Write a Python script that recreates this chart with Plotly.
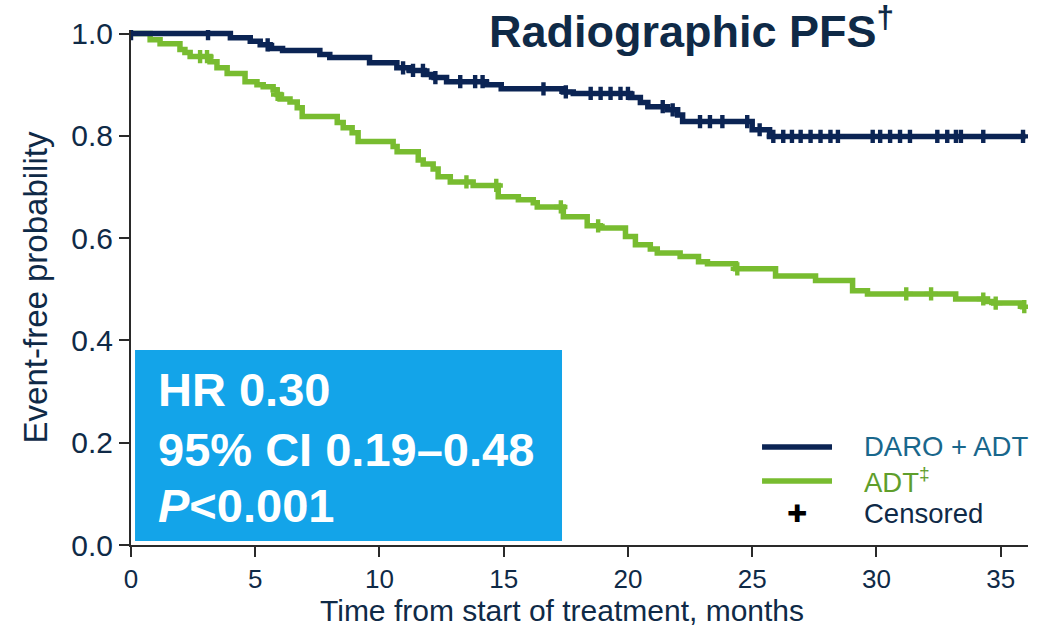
import numpy as np
import plotly.graph_objects as go

# Kaplan-Meier step data (months, event-free probability)
daro_time = [0, 4.0, 4.8, 5.2, 5.6, 6.1, 7.6, 8.0, 9.6, 10.7, 11.2, 11.8, 12.2, 12.7,
             14.3, 14.9, 17.4, 17.8, 20.1, 20.5, 20.8, 21.6, 22.0, 22.2, 25.0, 25.7, 36.0]
daro_surv = [1.0, 0.992, 0.985, 0.978, 0.971, 0.967, 0.959, 0.953, 0.943, 0.933, 0.928, 0.920,
             0.914, 0.906, 0.900, 0.892, 0.886, 0.883, 0.875, 0.865, 0.857, 0.851, 0.841, 0.828,
             0.812, 0.799, 0.799]

adt_time = [0, 0.77, 1.17, 1.97, 2.17, 2.38, 3.18, 3.46, 3.87, 4.59, 5.07, 5.32, 5.72, 5.88,
            6.0, 6.4, 6.69, 6.89, 8.3, 8.54, 8.9, 9.14, 10.55, 10.71, 11.56, 11.76, 12.16,
            12.36, 12.85, 13.77, 14.78, 15.59, 16.19, 16.35, 17.4, 18.36, 18.89, 19.9, 20.3,
            20.9, 21.18, 22.1, 22.84, 23.2, 24.33, 25.94, 27.55, 29.04, 29.64, 33.19, 34.47,
            34.72, 35.88, 36.0]
adt_surv = [1.0, 0.988, 0.980, 0.969, 0.963, 0.955, 0.945, 0.933, 0.922, 0.906, 0.900, 0.896,
            0.890, 0.881, 0.872, 0.866, 0.855, 0.838, 0.826, 0.816, 0.806, 0.789, 0.779, 0.769,
            0.753, 0.745, 0.735, 0.720, 0.710, 0.703, 0.681, 0.675, 0.669, 0.661, 0.642, 0.624,
            0.620, 0.603, 0.587, 0.579, 0.571, 0.564, 0.554, 0.550, 0.540, 0.526, 0.517, 0.497,
            0.491, 0.481, 0.476, 0.473, 0.466, 0.466]

# Censoring times (months)
daro_censor = [0.0, 3.1, 5.5, 10.95, 11.35, 11.75, 12.25, 13.25, 13.85, 14.15, 16.6, 17.5,
               18.5, 18.9, 19.3, 19.7, 20.0, 21.4, 21.8, 22.9, 23.3, 23.8, 24.8, 25.3, 25.85,
               26.25, 26.6, 26.95, 27.35, 27.75, 28.15, 28.45, 29.85, 30.15, 30.55, 30.95,
               31.35, 32.45, 32.85, 33.2, 33.4, 34.3, 35.9]
adt_censor = [2.78, 3.06, 5.9, 13.5, 14.7, 17.3, 18.8, 24.4, 31.2, 32.2, 34.3, 34.8, 35.95]

NAVY = "#0b2454"
GREEN = "#78bc30"
TEXT = "#0f2a47"
FONT = "Liberation Sans"


def surv_at(times, surv, t):
    idx = np.searchsorted(np.asarray(times), np.asarray(t), side="right") - 1
    return np.asarray(surv)[idx]


fig = go.Figure()

for times, surv, cens, color in [(adt_time, adt_surv, adt_censor, GREEN),
                                 (daro_time, daro_surv, daro_censor, NAVY)]:
    fig.add_trace(go.Scatter(x=times, y=surv, mode="lines", line=dict(color=color, width=5.5, shape="hv"),
                             showlegend=False, hoverinfo="skip"))
    fig.add_trace(go.Scatter(x=cens, y=surv_at(times, surv, cens), mode="markers",
                             marker=dict(symbol="cross", size=11, color=color, line=dict(width=0)),
                             showlegend=False, hoverinfo="skip"))

shapes = [
    # HR box
    dict(type="rect", xref="paper", yref="paper", x0=0.0045, x1=0.4805, y0=0.0078, y1=0.3786,
         fillcolor="#13a4e9", line=dict(width=0), layer="above"),
    # legend line samples
    dict(type="line", xref="paper", yref="paper", x0=0.7035, x1=0.7815, y0=0.1903, y1=0.1903,
         line=dict(color=NAVY, width=5.5)),
    dict(type="line", xref="paper", yref="paper", x0=0.7035, x1=0.7815, y0=0.1243, y1=0.1243,
         line=dict(color=GREEN, width=5.5)),
]

annotations = [
    dict(text="<b>Radiographic PFS<sup>†</sup></b>", xref="paper", yref="paper", x=0.625, y=1.004,
         xanchor="center", yanchor="middle", showarrow=False, font=dict(family=FONT, size=45, color=TEXT)),
    dict(text="<b>HR 0.30</b>", xref="paper", yref="paper", x=0.028, y=0.301, xanchor="left",
         yanchor="middle", showarrow=False, font=dict(family=FONT, size=47, color="white")),
    dict(text="<b>95% CI 0.19–0.48</b>", xref="paper", yref="paper", x=0.028, y=0.186, xanchor="left",
         yanchor="middle", showarrow=False, font=dict(family=FONT, size=47, color="white")),
    dict(text="<b><i>P</i><0.001</b>", xref="paper", yref="paper", x=0.028, y=0.076, xanchor="left",
         yanchor="middle", showarrow=False, font=dict(family=FONT, size=47, color="white")),
    dict(text="DARO + ADT", xref="paper", yref="paper", x=0.815, y=0.1903, xanchor="left",
         yanchor="middle", showarrow=False, font=dict(family=FONT, size=27.5, color="#19678c")),
    dict(text="ADT<sup>‡</sup>", xref="paper", yref="paper", x=0.815, y=0.1243, xanchor="left",
         yanchor="middle", showarrow=False, font=dict(family=FONT, size=27.5, color="#5f9e2c")),
    dict(text="✚", xref="paper", yref="paper", x=0.7425, y=0.0602, xanchor="center",
         yanchor="middle", showarrow=False, font=dict(family="DejaVu Sans", size=24, color="black")),
    dict(text="Censored", xref="paper", yref="paper", x=0.815, y=0.0602, xanchor="left",
         yanchor="middle", showarrow=False, font=dict(family=FONT, size=27.5, color=TEXT)),
    dict(text="Time from start of treatment, months", xref="paper", yref="paper", x=0.4805, y=-0.127,
         xanchor="center", yanchor="middle", showarrow=False, font=dict(family=FONT, size=30, color=TEXT)),
]

fig.update_layout(
    width=1050, height=629,
    margin=dict(l=131, r=22, t=30, b=84),
    paper_bgcolor="white", plot_bgcolor="white",
    font=dict(family=FONT, color=TEXT),
    shapes=shapes, annotations=annotations,
    showlegend=False,
)

fig.update_xaxes(range=[0, 36.1], tickvals=[0, 5, 10, 15, 20, 25, 30, 35], ticks="outside",
                 ticklen=10, tickwidth=2, tickcolor="#2a2a2a", showline=True, linewidth=2,
                 linecolor="#2a2a2a", showgrid=False, zeroline=False,
                 tickfont=dict(family=FONT, size=26, color=TEXT))
fig.update_yaxes(range=[0, 1.007], tickvals=[0, 0.2, 0.4, 0.6, 0.8, 1.0], tickformat=".1f",
                 ticks="outside", ticklen=10, tickwidth=2, tickcolor="#2a2a2a", showline=True,
                 linewidth=2, linecolor="#2a2a2a", showgrid=False, zeroline=False,
                 tickfont=dict(family=FONT, size=30, color=TEXT),
                 title=dict(text="Event-free probability", standoff=14,
                            font=dict(family=FONT, size=33, color=TEXT)))

fig.write_html("out.html")
